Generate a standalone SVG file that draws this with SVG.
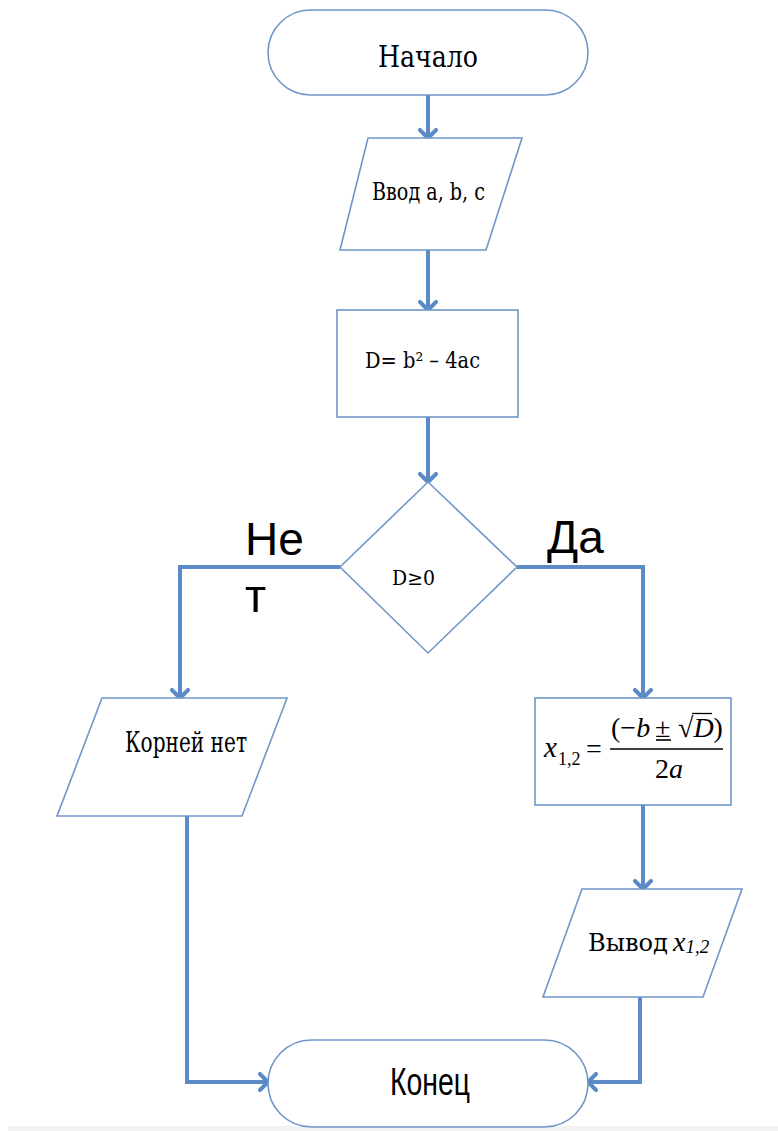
<svg xmlns="http://www.w3.org/2000/svg" width="778" height="1131" viewBox="0 0 778 1131">
  <defs>
    <style>
      .shape { fill: #ffffff; stroke: #6f96c8; stroke-width: 1.6; }
      .flow { fill: none; stroke: #5b8ac6; stroke-width: 4; marker-end: url(#chev); }
      .serif { font-family: "DejaVu Serif", "Liberation Serif", serif; fill: #000; }
      .math { font-family: "Liberation Serif", "DejaVu Serif", serif; fill: #000; }
      .ital { font-style: italic; }
      .sans { font-family: "Liberation Sans", Arial, sans-serif; fill: #000; }
    </style>
    <marker id="chev" viewBox="0 0 12 20" refX="10" refY="10" markerWidth="12" markerHeight="20" orient="auto" markerUnits="userSpaceOnUse">
      <path d="M2,2 L10,10 L2,18" fill="none" stroke="#5b8ac6" stroke-width="4" stroke-linecap="round" stroke-linejoin="round"/>
    </marker>
  </defs>

  <rect width="778" height="1131" fill="#ffffff"/>
  <rect x="8" y="1126" width="770" height="5" fill="#f2f2f2"/>

  <!-- connectors -->
  <g id="connectors">
    <path class="flow" d="M428,95 V138"/>
    <path class="flow" d="M428,250 V310"/>
    <path class="flow" d="M428,417 V482"/>
    <path class="flow" d="M340,567 H180 V698"/>
    <path class="flow" d="M517,567 H643 V698"/>
    <path class="flow" d="M643,805 V889"/>
    <path class="flow" d="M187,816 V1082 H268"/>
    <path class="flow" d="M640,997 V1082 H588"/>
  </g>

  <!-- start -->
  <g id="start">
    <rect class="shape" x="268" y="10" width="320" height="85" rx="42.5"/>
    <text class="serif" x="378" y="67" font-size="30" textLength="100" lengthAdjust="spacingAndGlyphs">Начало</text>
  </g>

  <!-- input a, b, c -->
  <g id="input">
    <polygon class="shape" points="368,138 522,138 486,250 340,250"/>
    <text class="serif" x="372" y="200" font-size="24" textLength="113" lengthAdjust="spacingAndGlyphs">Ввод а, b, с</text>
  </g>

  <!-- discriminant -->
  <g id="discriminant">
    <rect class="shape" x="337" y="310" width="181" height="107"/>
    <text class="serif" x="365" y="368" font-size="22" textLength="115" lengthAdjust="spacingAndGlyphs">D= b² – 4ac</text>
  </g>

  <!-- decision -->
  <g id="decision">
    <polygon class="shape" points="428,482 517,567 428,653 340,567"/>
    <text class="serif" x="392" y="585" font-size="20" textLength="43" lengthAdjust="spacingAndGlyphs">D≥0</text>
  </g>

  <!-- branch labels -->
  <g id="labels">
    <text class="sans" x="245" y="555" font-size="46">Не</text>
    <text class="sans" x="245" y="612" font-size="46">т</text>
    <text class="sans" x="547" y="553" font-size="46">Да</text>
  </g>

  <!-- no roots -->
  <g id="no-roots">
    <polygon class="shape" points="102,698 287,698 242,816 57,816"/>
    <text class="serif" x="125" y="752" font-size="27" textLength="122" lengthAdjust="spacingAndGlyphs">Корней нет</text>
  </g>

  <!-- roots formula -->
  <g id="roots">
    <rect class="shape" x="535" y="698" width="196" height="107"/>
    <text class="math ital" x="544" y="757" font-size="29">x</text>
    <text class="math" x="558" y="765" font-size="18">1,2</text>
    <text class="math" x="586" y="758" font-size="28">=</text>
    <text class="math" x="611" y="737" font-size="28">(−<tspan class="ital">b</tspan></text>
    <text class="math" x="655" y="737" font-size="28">±</text>
    <line x1="656" y1="740" x2="671" y2="740" stroke="#000" stroke-width="1.6"/>
    <text class="math" x="678" y="737" font-size="28">√<tspan class="ital">D</tspan>)</text>
    <line x1="692" y1="713.5" x2="712" y2="713.5" stroke="#000" stroke-width="1.3"/>
    <line x1="610" y1="749" x2="723" y2="749" stroke="#000" stroke-width="1.6"/>
    <text class="math" x="655" y="778" font-size="28">2<tspan class="ital">a</tspan></text>
  </g>

  <!-- output -->
  <g id="output">
    <polygon class="shape" points="582,889 742,889 703,997 543,997"/>
    <text class="serif" x="588" y="951" font-size="25" textLength="80" lengthAdjust="spacingAndGlyphs">Вывод</text>
    <text class="math ital" x="673" y="951" font-size="28">x<tspan font-size="19" dy="2">1,2</tspan></text>
  </g>

  <!-- end -->
  <g id="end">
    <rect class="shape" x="268" y="1040" width="320" height="87" rx="43.5"/>
    <text class="sans" x="390" y="1095" font-size="39" textLength="80" lengthAdjust="spacingAndGlyphs">Конец</text>
  </g>
</svg>
